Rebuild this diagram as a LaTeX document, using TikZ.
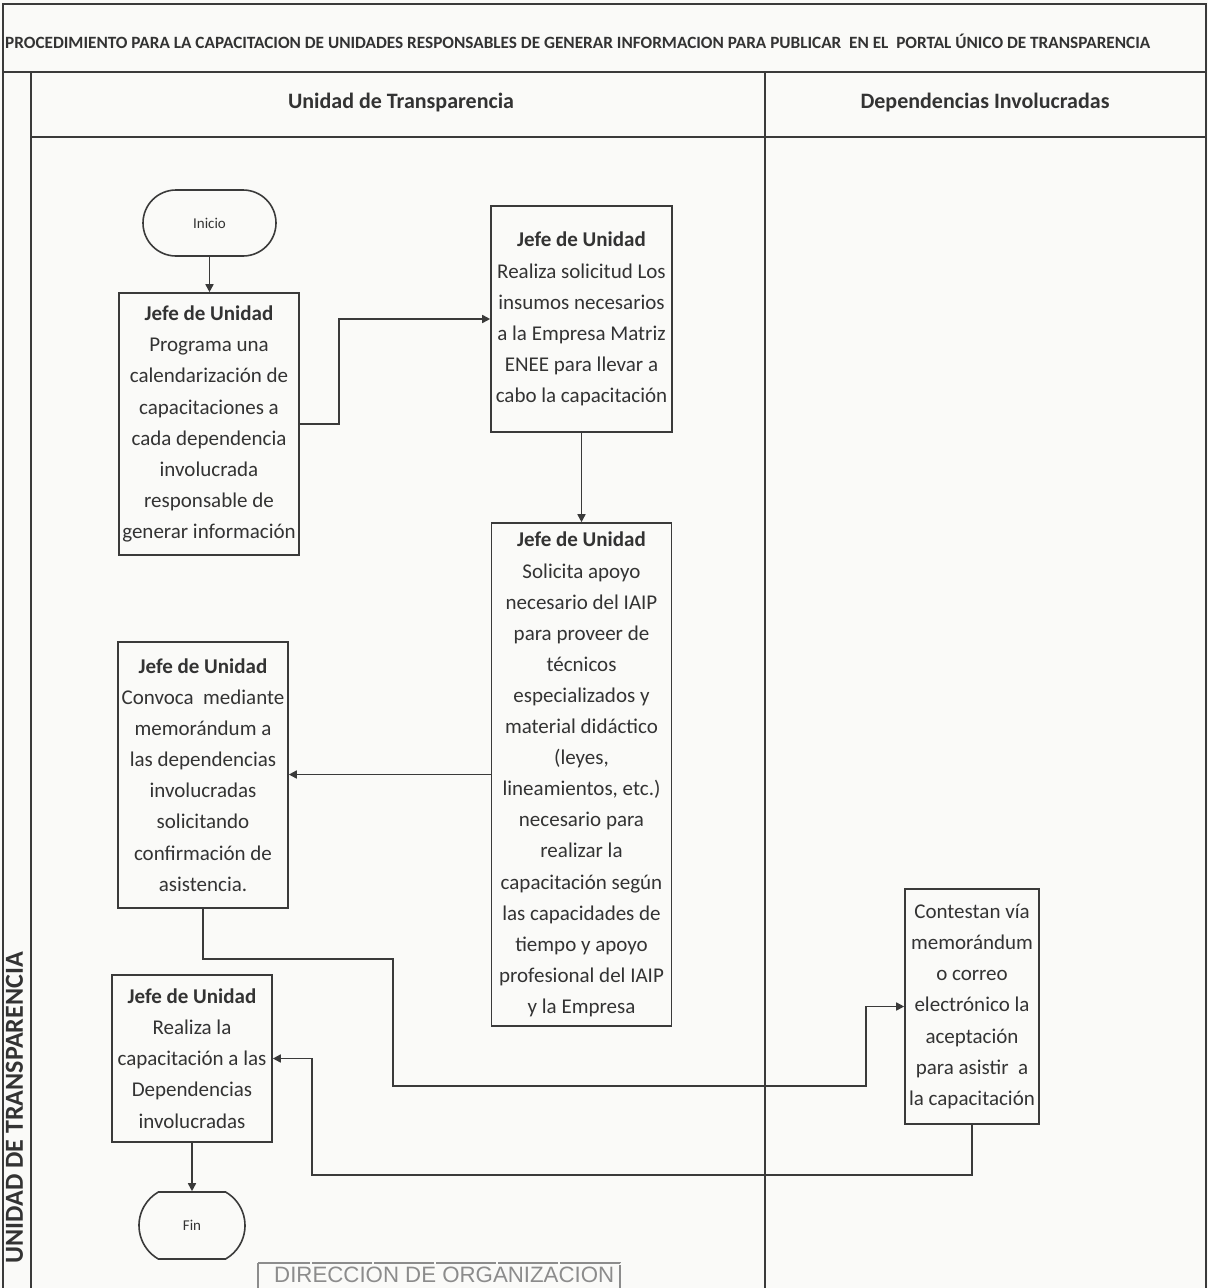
\documentclass[tikz,border=0pt]{standalone}
\usepackage{fontspec}
\setmainfont{Carlito}
\newfontfamily\stampfont{Liberation Sans}
\usetikzlibrary{arrows.meta,shapes.misc}
\definecolor{ink}{HTML}{3A3A3A}
\definecolor{txt}{HTML}{333333}
\definecolor{paper}{HTML}{FAFAF8}
\definecolor{stampgray}{HTML}{8C8C8C}
\tikzset{
  frame/.style={draw=ink, line width=1.4pt},
  box/.style={draw=ink, line width=1.6pt, align=center, text=txt,
    font=\fontsize{21}{31.1}\selectfont, inner sep=0pt},
  term/.style={draw=ink, line width=1.6pt, rounded rectangle, align=center, text=txt,
    font=\fontsize{15}{18}\selectfont, inner sep=0pt},
  arr/.style={draw=ink, line width=1.6pt, -{Triangle[length=8pt,width=8pt]}},
  hdr/.style={text=txt, font=\fontsize{22}{26}\selectfont\bfseries, inner sep=0pt}
}
\begin{document}
\begin{tikzpicture}[x=1pt,y=-1pt]
\useasboundingbox (0,0) rectangle (1208,1288);
\clip (0,0) rectangle (1208,1288);
\fill[paper] (0,0) rectangle (1208,1288);

% frame
\draw[frame] (3,4) rectangle (1206,1320);
\draw[frame] (3,72) -- (1206,72);
\draw[frame] (31,72) -- (31,1320);
\draw[frame] (31,137) -- (1206,137);
\draw[frame] (765,72) -- (765,1320);

% title and headers
\node[anchor=west, inner sep=0pt, text=txt] (title) at (5,41)
  {\resizebox{1145pt}{!}{\fontsize{16}{19}\selectfont\bfseries PROCEDIMIENTO PARA LA CAPACITACION DE UNIDADES RESPONSABLES DE GENERAR INFORMACION PARA PUBLICAR\ \ EN EL\ \ PORTAL ÚNICO DE TRANSPARENCIA}};
\node[hdr] (h1) at (401,103) {Unidad de Transparencia};
\node[hdr] (h2) at (985,103) {Dependencias Involucradas};
\node[rotate=90, anchor=east, inner sep=0pt, text=txt, font=\fontsize{26}{30}\selectfont\bfseries] (lane) at (14.5,952) {UNIDAD DE TRANSPARENCIA};

% nodes
\node[term, minimum width=133pt, minimum height=66pt] (ini) at (209.5,223) {Inicio};
\node[box, minimum width=180pt, minimum height=262pt] (b1) at (209,424)
  {\textbf{Jefe de Unidad}\\Programa una\\calendarización de\\capacitaciones a\\cada dependencia\\involucrada\\responsable de\\generar información};
\node[box, minimum width=181pt, minimum height=226pt] (b2) at (581.5,319)
  {\textbf{Jefe de Unidad}\\Realiza solicitud Los\\insumos necesarios\\a la Empresa Matriz\\ENEE para llevar a\\cabo la capacitación};
\node[box, minimum width=180pt, minimum height=503pt] (b3) at (581.5,774.5)
  {\textbf{Jefe de Unidad}\\Solicita apoyo\\necesario del IAIP\\para proveer de\\técnicos\\especializados y\\material didáctico\\(leyes,\\lineamientos, etc.)\\necesario para\\realizar la\\capacitación según\\las capacidades de\\tiempo y apoyo\\profesional del IAIP\\y la Empresa};
\node[box, minimum width=170pt, minimum height=266pt] (b4) at (203,775)
  {\textbf{Jefe de Unidad}\\Convoca\ \ mediante\\memorándum a\\las dependencias\\involucradas\\solicitando\\confirmación de\\asistencia.};
\node[box, minimum width=160pt, minimum height=167pt] (b5) at (192,1058.5)
  {\textbf{Jefe de Unidad}\\Realiza la\\capacitación a las\\Dependencias\\involucradas};
\node[box, minimum width=134pt, minimum height=235pt] (br) at (972,1006.5)
  {Contestan vía\\memorándum\\o correo\\electrónico la\\aceptación\\para asistir\ \ a\\la capacitación};
\node[term, rounded rectangle arc length=120, minimum width=106pt, minimum height=67pt] (fin) at (192,1225.5) {Fin};

% connectors
\draw[arr] (ini.south) -- (ini.south |- b1.north);
\draw[arr] (b1.east) -- ++(39pt,0) |- (b2.west);
\draw[arr] (b2.south) -- (b2.south |- b3.north);
\draw[arr] (b3.west) -- (b3.west -| b4.east);
\coordinate (k1) at (393,959);
\coordinate (k2) at (866,1086);
\draw[arr] (b4.south) |- (k1) |- (k2) |- (br.west);
\coordinate (k3) at (312,1175);
\draw[arr] (br.south) |- (k3) |- (b5.east);
\draw[arr] (b5.south) -- (fin.north);

% stamp (partly visible)
\draw[stampgray, line width=1.6pt, dash pattern=on 60pt off 2pt] (258,1263) rectangle (620,1330);
\node[anchor=base west, inner sep=0pt, text=stampgray] (stamp) at (274,1282)
  {\resizebox{340pt}{!}{\stampfont\fontsize{20}{24}\selectfont DIRECCION DE ORGANIZACION}};
\end{tikzpicture}
\end{document}
